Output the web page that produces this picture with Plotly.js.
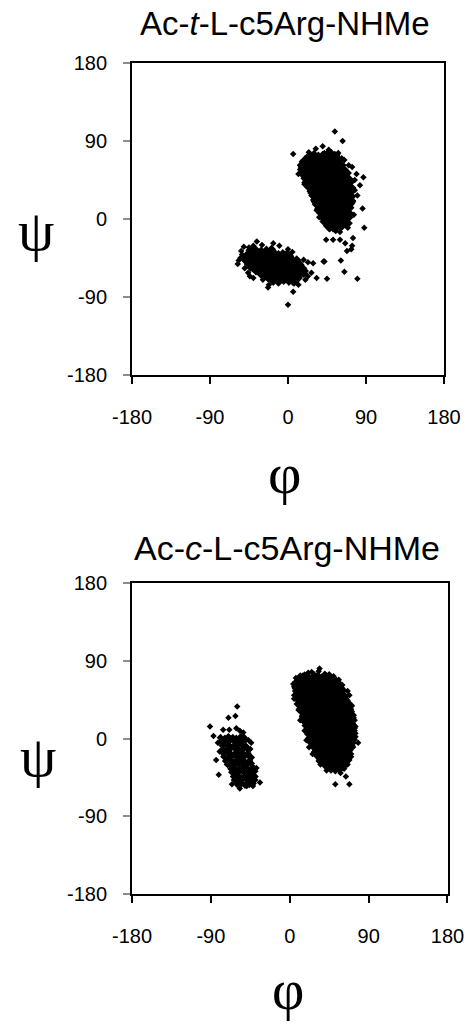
<!DOCTYPE html>
<html>
<head>
<meta charset="utf-8">
<script src="https://cdn.plot.ly/plotly-3.0.1.min.js"></script>
<style>
  html, body { margin: 0; padding: 0; background: #fff; }
  #plot { width: 472px; height: 1029px; }
</style>
</head>
<body>
<div id="plot"></div>
<script>
// [phi, psi] pairs
// Ac-t-L-c5Arg-NHMe : dense alpha-L region
var transCoreA = [
  [25,72],[30,73],[35,71],[40,72],[45,73],[50,71],[54,72],
  [20,67],[25,66],[30,68],[35,67],[40,66],[45,68],[50,67],[55,66],[57,68],
  [17,62],[22,63],[27,61],[32,62],[37,63],[42,61],[47,62],[52,63],[57,61],[61,62],
  [17,57],[22,56],[27,58],[32,57],[37,56],[42,58],[47,57],[52,56],[57,58],[62,57],[64,56],
  [18,52],[23,53],[28,51],[33,52],[38,53],[43,51],[48,52],[53,53],[58,51],[63,52],[67,53],
  [21,47],[26,46],[31,48],[36,47],[41,46],[46,48],[51,47],[56,46],[61,48],[66,47],[69,46],
  [22,42],[27,43],[32,41],[37,42],[42,43],[47,41],[52,42],[57,43],[62,41],[67,42],[71,43],
  [25,37],[30,36],[35,38],[40,37],[45,36],[50,38],[55,37],[60,36],[65,38],[70,37],[72,36],
  [28,32],[33,33],[38,31],[43,32],[48,33],[53,31],[58,32],[63,33],[68,31],[72,32],
  [30,27],[35,26],[40,28],[45,27],[50,26],[55,28],[60,27],[65,26],[70,28],[72,26],
  [32,22],[37,23],[42,21],[47,22],[52,23],[57,21],[62,22],[67,23],[72,21],
  [34,17],[39,16],[44,18],[49,17],[54,16],[59,18],[64,17],[69,16],[71,18],
  [37,12],[42,13],[47,11],[52,12],[57,13],[62,11],[67,12],[70,13],
  [39,7],[44,6],[49,8],[54,7],[59,6],[64,8],[69,7],
  [41,2],[46,3],[51,1],[56,2],[61,3],[66,1],[69,2],
  [43,-3],[48,-2],[53,-4],[58,-3],[63,-2],[66,-4],
  [47,-8],[52,-9],[57,-7],[61,-8]
];
// Ac-t-L-c5Arg-NHMe : second cluster near (-15, -55)
var transCoreB = [
  [-44,-36],[-38,-35],[-31,-37],[-25,-36],[-19,-35],
  [-46,-40],[-41,-41],[-36,-39],[-31,-40],[-26,-41],[-21,-40],[-16,-39],[-11,-41],[-6,-40],[-1,-40],
  [-48,-44],[-43,-45],[-38,-43],[-33,-44],[-28,-45],[-23,-44],[-18,-43],[-13,-44],[-8,-45],[-3,-44],[2,-43],
  [-49,-48],[-44,-47],[-39,-49],[-34,-48],[-29,-47],[-24,-48],[-19,-49],[-14,-48],[-9,-47],[-4,-48],[1,-49],[6,-48],[10,-47],
  [-46,-52],[-41,-53],[-36,-51],[-31,-52],[-26,-53],[-21,-52],[-16,-51],[-11,-52],[-6,-53],[-1,-52],[4,-51],[9,-52],[14,-53],
  [-43,-56],[-38,-57],[-33,-55],[-28,-56],[-23,-57],[-18,-56],[-13,-55],[-8,-56],[-3,-57],[2,-56],[7,-55],[12,-56],[17,-57],
  [-37,-60],[-32,-61],[-27,-59],[-22,-60],[-17,-61],[-12,-60],[-7,-59],[-2,-60],[3,-61],[8,-60],[13,-59],[19,-60],
  [-31,-64],[-26,-65],[-21,-63],[-16,-64],[-11,-65],[-6,-64],[-1,-63],[4,-64],[9,-65],[14,-64],[18,-63],
  [-23,-68],[-18,-69],[-13,-67],[-8,-68],[-3,-69],[2,-68],[7,-67],[12,-68],
  [-17,-72],[-11,-73],[-5,-71],[1,-72],[7,-73]
];
// Ac-t-L-c5Arg-NHMe : isolated points
var transSpread = [
  [54,101],[63,90],[6,75],[24,77],[32,81],[40,84],[47,80],[58,76],[65,68],[15,59],[12,52],[14,62],
  [79,52],[87,48],[83,39],[77,45],[80,27],[86,12],[88,-10],[75,20],[77,33],[69,-10],[48,-12],
  [44,-24],[52,-24],[60,-24],[66,-28],[75,-22],[68,-37],[73,-35],[74,-31],[61,-48],[65,-61],
  [80,-69],[45,-69],[41,-49],[36,2],[33,10],[30,20],[26,30],[20,45],[19,40],[60,-15],[55,-14],
  [71,-5],[76,5],[74,60],[70,62],[62,70],[57,74],[20,70],[16,66],[30,75],[42,76],[50,77],
  [-58,-52],[-54,-37],[-51,-32],[-53,-41],[-36,-26],[-30,-30],[-17,-28],[-10,-31],[0,-35],[5,-38],
  [18,-47],[23,-50],[29,-51],[42,-49],[33,-68],[23,-66],[27,-62],[6,-74],[6,-84],[0,-99],
  [-23,-79],[-22,-76],[-50,-57],[-44,-66],[-46,-62],[-40,-68],[-29,-70],[-55,-45],[-57,-48],
  [12,-76],[20,-70],[-40,-31],[-45,-33],[6,-70],[14,-51]
];

// Ac-c-L-c5Arg-NHMe : dense alpha-L region
var cisCoreD = [
  [12,70],[17,71],[22,69],[27,70],[32,71],[37,69],[42,70],[45,71],
  [9,65],[14,66],[19,64],[24,65],[29,66],[34,64],[39,65],[44,66],[49,64],[53,65],
  [8,60],[13,59],[18,61],[23,60],[28,59],[33,61],[38,60],[43,59],[48,61],[53,60],[56,59],
  [9,55],[14,56],[19,54],[24,55],[29,56],[34,54],[39,55],[44,56],[49,54],[54,55],[59,56],
  [11,50],[16,49],[21,51],[26,50],[31,49],[36,51],[41,50],[46,49],[51,51],[56,50],[61,49],
  [11,45],[16,46],[21,44],[26,45],[31,46],[36,44],[41,45],[46,46],[51,44],[56,45],[61,46],[63,44],
  [12,40],[17,39],[22,41],[27,40],[32,39],[37,41],[42,40],[47,39],[52,41],[57,40],[62,39],[65,41],
  [14,35],[19,36],[24,34],[29,35],[34,36],[39,34],[44,35],[49,36],[54,34],[59,35],[64,36],[67,34],
  [16,30],[21,29],[26,31],[31,30],[36,29],[41,31],[46,30],[51,29],[56,31],[61,30],[66,29],[68,31],
  [17,25],[22,26],[27,24],[32,25],[37,26],[42,24],[47,25],[52,26],[57,24],[62,25],[67,26],[70,24],
  [18,20],[23,19],[28,21],[33,20],[38,19],[43,21],[48,20],[53,19],[58,21],[63,20],[68,19],[71,21],
  [20,15],[25,16],[30,14],[35,15],[40,16],[45,14],[50,15],[55,16],[60,14],[65,15],[70,16],[72,14],
  [21,10],[26,9],[31,11],[36,10],[41,9],[46,11],[51,10],[56,9],[61,11],[66,10],[71,9],
  [23,5],[28,6],[33,4],[38,5],[43,6],[48,4],[53,5],[58,6],[63,4],[68,5],[72,6],
  [24,0],[29,-1],[34,1],[39,0],[44,-1],[49,1],[54,0],[59,-1],[64,1],[69,0],[71,-1],
  [26,-5],[31,-4],[36,-6],[41,-5],[46,-4],[51,-6],[56,-5],[61,-4],[66,-6],[70,-5],
  [29,-10],[34,-11],[39,-9],[44,-10],[49,-11],[54,-9],[59,-10],[64,-11],[69,-9],
  [31,-15],[36,-14],[41,-16],[46,-15],[51,-14],[56,-16],[61,-15],[66,-14],
  [33,-20],[38,-21],[43,-19],[48,-20],[53,-21],[58,-19],[63,-20],[67,-21],
  [37,-25],[42,-24],[47,-26],[52,-25],[57,-24],[62,-26],[65,-25],
  [41,-30],[46,-31],[51,-29],[56,-30],[61,-31],
  [47,-34],[52,-35],[57,-34]
];
// Ac-c-L-c5Arg-NHMe : cluster near (-60, -25)
var cisCoreC = [
  [-79,1],[-74,0],[-70,2],[-65,1],[-61,0],[-56,2],[-52,1],
  [-78,-3],[-73,-4],[-68,-2],[-64,-3],[-59,-4],[-55,-3],[-51,-2],
  [-77,-8],[-72,-7],[-68,-9],[-63,-8],[-59,-7],[-54,-8],[-50,-9],
  [-76,-12],[-71,-13],[-67,-11],[-62,-12],[-58,-13],[-53,-12],[-49,-11],
  [-76,-17],[-71,-16],[-67,-18],[-62,-17],[-57,-16],[-53,-18],[-48,-17],
  [-75,-21],[-70,-22],[-66,-20],[-61,-21],[-57,-22],[-52,-21],[-47,-20],[-44,-22],
  [-73,-26],[-69,-25],[-64,-27],[-60,-26],[-55,-25],[-51,-27],[-46,-26],
  [-71,-30],[-67,-31],[-62,-29],[-58,-30],[-53,-31],[-49,-30],[-44,-29],
  [-67,-35],[-63,-34],[-58,-36],[-54,-35],[-49,-34],[-45,-36],[-41,-35],
  [-66,-39],[-61,-40],[-57,-38],[-52,-39],[-48,-40],[-43,-39],[-40,-38],
  [-64,-44],[-60,-43],[-55,-45],[-51,-44],[-46,-43],[-42,-45],
  [-63,-48],[-58,-49],[-54,-47],[-49,-48],[-45,-49],[-40,-48],
  [-60,-53],[-55,-52],[-51,-54],[-46,-53],[-42,-52]
];
// Ac-c-L-c5Arg-NHMe : isolated points
var cisSpread = [
  [34,81],[33,78],[25,77],[21,76],[28,74],[40,75],[5,46],[5,50],[8,40],[10,33],[12,21],[14,26],
  [17,9],[19,-2],[22,-10],[26,-18],[35,-30],[33,-26],[52,-53],[64,-44],[68,-53],[78,-5],[75,2],
  [74,12],[73,27],[71,38],[68,50],[66,55],[60,62],[56,68],[50,72],[4,63],[6,58],[7,70],[42,-37],
  [62,-35],[58,-40],[66,-30],[70,-18],[72,-10],[11,68],[15,73],[45,74],
  [-60,37],[-70,24],[-62,26],[-91,14],[-87,3],[-76,10],[-69,10],[-61,12],[-57,9],[-53,7],
  [-84,-25],[-81,-42],[-66,-53],[-57,-58],[-49,-55],[-42,-55],[-34,-51],[-39,-44],[-45,-12],
  [-42,-33],[-38,-34],[-82,-5],[-80,-15],[-44,-5],[-47,-2]
];

var angleTicks = [-180, -90, 0, 90, 180];

function pts(arr, size, xa, ya) {
  return {
    type: 'scatter',
    mode: 'markers',
    x: arr.map(function (p) { return p[0]; }),
    y: arr.map(function (p) { return p[1]; }),
    xaxis: xa,
    yaxis: ya,
    marker: { symbol: 'diamond', size: size, color: '#000', line: { width: 0 } },
    hoverinfo: 'x+y'
  };
}

var data = [
  pts(transCoreA, 9, 'x', 'y'),
  pts(transCoreB, 7, 'x', 'y'),
  pts(transSpread, 5, 'x', 'y'),
  pts(cisCoreD, 9, 'x2', 'y2'),
  pts(cisCoreC, 6, 'x2', 'y2'),
  pts(cisSpread, 5, 'x2', 'y2')
];

function xAxis(domain, anchor) {
  return {
    domain: domain, anchor: anchor,
    range: [-180, 180], tickvals: angleTicks, ticktext: angleTicks.map(String),
    ticks: 'outside', ticklen: 7, tickwidth: 1.5, tickcolor: '#000',
    ticklabelstandoff: 16,
    showline: true, mirror: true, linecolor: '#000', linewidth: 2,
    showgrid: false, zeroline: false,
    tickfont: { family: 'Liberation Sans, Arial, sans-serif', size: 20, color: '#000' }
  };
}
function yAxis(domain, anchor) {
  return {
    domain: domain, anchor: anchor,
    range: [-180, 180], tickvals: angleTicks, ticktext: angleTicks.map(String),
    ticks: 'outside', ticklen: 7, tickwidth: 1.5, tickcolor: '#8c8c8c',
    ticklabelstandoff: 12,
    showline: true, mirror: true, linecolor: '#000', linewidth: 2,
    showgrid: false, zeroline: false,
    tickfont: { family: 'Liberation Sans, Arial, sans-serif', size: 20, color: '#000' }
  };
}

var sans = 'Liberation Sans, Arial, sans-serif';
var serif = 'Liberation Serif, Times New Roman, serif';

var layout = {
  width: 472,
  height: 1029,
  margin: { l: 0, r: 0, t: 0, b: 0 },
  paper_bgcolor: '#fff',
  plot_bgcolor: '#fff',
  showlegend: false,
  xaxis: xAxis([0.2797, 0.9407], 'y'),
  yaxis: yAxis([0.6356, 0.9388], 'x'),
  xaxis2: xAxis([0.2797, 0.9481], 'y2'),
  yaxis2: yAxis([0.1312, 0.4334], 'x2'),
  annotations: [
    { text: 'Ac-<i>t</i>-L-c5Arg-NHMe', xref: 'paper', yref: 'paper', x: 0.6028, y: 0.9767,
      xanchor: 'center', yanchor: 'middle', showarrow: false, font: { family: sans, size: 33, color: '#000' } },
    { text: 'Ac-<i>c</i>-L-c5Arg-NHMe', xref: 'paper', yref: 'paper', x: 0.6091, y: 0.4674,
      xanchor: 'center', yanchor: 'middle', showarrow: false, font: { family: sans, size: 34, color: '#000' } },
    { text: '\u03c6', xref: 'paper', yref: 'paper', x: 0.6038, y: 0.5395,
      xanchor: 'center', yanchor: 'middle', showarrow: false, font: { family: serif, size: 58, color: '#000' } },
    { text: '\u03c6', xref: 'paper', yref: 'paper', x: 0.6102, y: 0.0375,
      xanchor: 'center', yanchor: 'middle', showarrow: false, font: { family: serif, size: 56, color: '#000' } },
    { text: '\u03c8', xref: 'paper', yref: 'paper', x: 0.0763, y: 0.7756,
      xanchor: 'center', yanchor: 'middle', showarrow: false, font: { family: serif, size: 58, color: '#000' } },
    { text: '\u03c8', xref: 'paper', yref: 'paper', x: 0.0805, y: 0.2644,
      xanchor: 'center', yanchor: 'middle', showarrow: false, font: { family: serif, size: 58, color: '#000' } }
  ]
};

Plotly.newPlot('plot', data, layout, { displayModeBar: false, responsive: false });
</script>
</body>
</html>
